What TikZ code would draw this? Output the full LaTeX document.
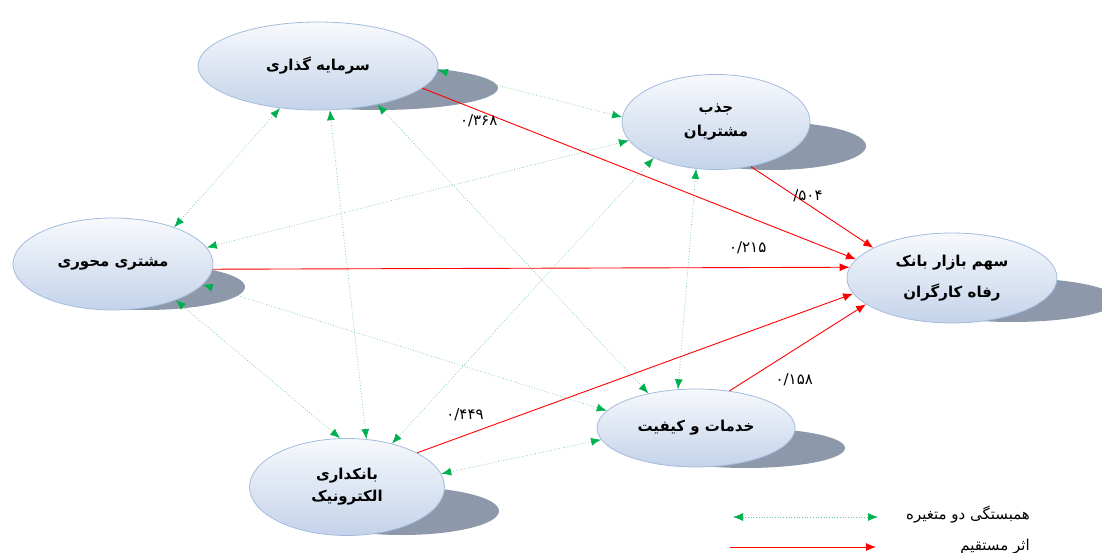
\documentclass[tikz,border=0pt]{standalone}
\usepackage{fontspec}
\usetikzlibrary{shapes.geometric,arrows.meta,calc,backgrounds}
\newfontfamily\arabicfont[Script=Arabic]{DejaVu Sans}
\TeXXeTstate=1
\newcommand{\fa}[1]{\beginR#1\endR}
\definecolor{elltop}{HTML}{F7F9FC}
\definecolor{ellbot}{HTML}{C4D3EA}
\definecolor{ellline}{HTML}{A3BCDD}
\definecolor{shadowc}{HTML}{8D99AA}
\definecolor{corgreen}{HTML}{00B050}
\definecolor{corline}{HTML}{6CC78F}

\begin{document}
\begin{tikzpicture}[x=1pt,y=-1pt,
    fac/.style={ellipse,draw=ellline,line width=0.8pt,top color=elltop,
        bottom color=ellbot,inner sep=0pt,align=center,
        font=\arabicfont\bfseries\fontsize{15}{24}\selectfont},
    shd/.style={fill=shadowc},
    cor/.style={draw=corline,dotted,line width=0.7pt,
        {Latex[length=10pt,width=8pt,color=corgreen]}-{Latex[length=10pt,width=8pt,color=corgreen]}},
    eff/.style={draw=red,line width=0.9pt,-{Latex[length=10pt,width=8pt]}},
    num/.style={font=\arabicfont\fontsize{15}{17}\selectfont,inner sep=0pt},
    leg/.style={font=\arabicfont\fontsize{15}{18}\selectfont}]
    \useasboundingbox (0,0) rectangle (1102,553);
    % the factors
    \node[fac,minimum width=240,minimum height=88] (inv) at (318,66) {\fa{سرمایه گذاری}};
    \node[fac,minimum width=188,minimum height=95] (jazb) at (716,122) {\fa{جذب}\\\fa{مشتریان}};
    \node[fac,minimum width=200,minimum height=92] (mehv) at (113,264) {\fa{مشتری محوری}};
    \node[fac,minimum width=210,minimum height=90] (mkt) at (952,278) {\fa{سهم بازار بانک}\\[7pt]\fa{رفاه کارگران}};
    \node[fac,minimum width=198,minimum height=78] (khad) at (696,428) {\fa{خدمات و کیفیت}};
    \node[fac,minimum width=195,minimum height=97] (elec) at (347,487) {\fa{بانکداری}\\[-2pt]\fa{الکترونیک}};

    % the shadows
    \begin{scope}[on background layer]
        \fill[shd] ($(inv)+(60,22)$) ellipse [x radius=120,y radius=22];
        \fill[shd] ($(jazb)+(56,24)$) ellipse [x radius=94,y radius=24];
        \fill[shd] ($(mehv)+(32,23)$) ellipse [x radius=100,y radius=23];
        \fill[shd] ($(mkt)+(60,22)$) ellipse [x radius=105,y radius=22];
        \fill[shd] ($(khad)+(50,20)$) ellipse [x radius=99,y radius=20];
        \fill[shd] ($(elec)+(55,24)$) ellipse [x radius=97,y radius=24];
    \end{scope}

    % correlations
    \draw[cor] (inv.-2) -- (jazb.177);
    \draw[cor] (inv.-132) -- (mehv.31);
    \draw[cor] (inv.-75) -- (elec.68);
    \draw[cor] (inv.-33) -- (khad.144);
    \draw[cor] (jazb.192) -- (mehv.10);
    \draw[cor] (jazb.210) -- (elec.44);
    \draw[cor] (jazb.-113) -- (khad.115);
    \draw[cor] (mehv.-13) -- (khad.169);
    \draw[cor] (mehv.-30) -- (elec.98);
    \draw[cor] (elec.8) -- (khad.187);

    % direct effects
    \draw[eff] (inv.-12) -- node[num,pos=0.13,below=4pt] {۰/۳۶۸} (mkt.169);
    \draw[eff] (jazb.-52) -- node[num,pos=0.36,anchor=west,xshift=-2pt] {\hbox{/}\hbox{۵۰۴}} (mkt.159);
    \draw[eff] (mehv.-3) -- node[num,pos=0.84,above=13pt] {۰/۲۱۵} (mkt.174);
    \draw[eff] (elec.26) -- node[num,pos=0.11,above=14pt] {۰/۴۴۹} (mkt.189);
    \draw[eff] (khad.48) -- node[num,pos=0.13,anchor=west,xshift=28pt] {۰/۱۵۸} (mkt.197);

    % the legend
    \coordinate (c1) at (733,517);
    \coordinate (c2) at (878,517);
    \draw[cor] (c1) -- (c2);
    \node[leg] (legc) at (968,515) {\fa{همبستگی دو متغیره}};
    \coordinate (e1) at (730,547);
    \coordinate (e2) at (876,547);
    \draw[eff] (e1) -- (e2);
    \node[leg] (lege) at (995,547) {\fa{اثر مستقیم}};
\end{tikzpicture}
\end{document}
